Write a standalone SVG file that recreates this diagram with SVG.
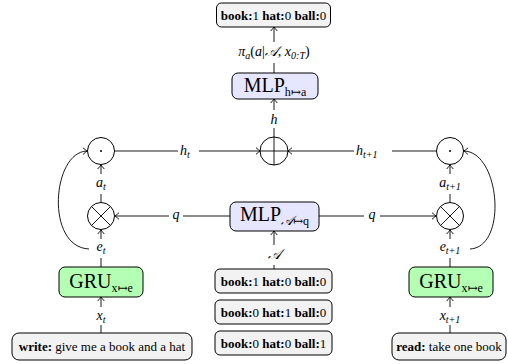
<svg xmlns="http://www.w3.org/2000/svg" width="508" height="364" viewBox="0 0 508 364">
<defs>
<marker id="ar" viewBox="-6 -5 7 10" refX="0" refY="0" markerWidth="7" markerHeight="10" markerUnits="userSpaceOnUse" orient="auto">
<path d="M-4,-3.3 Q-1.2,-0.9 0,0 Q-1.2,0.9 -4,3.3" fill="none" stroke="#000" stroke-width="0.9"/>
</marker>
<style>
.box{stroke:#000;stroke-width:1}
.gray{fill:#f2f2f2}
.blue{fill:#e6e6ff}
.green{fill:#b3ffb3}
.t{font-family:"Liberation Serif","DejaVu Serif",serif;font-size:13px;fill:#000}
.b{font-weight:bold}
.m{font-family:"Liberation Serif","DejaVu Serif",serif;font-style:italic;font-size:14px;fill:#000}
.s{font-size:10px}
.big{font-family:"Liberation Serif","DejaVu Serif",serif;font-size:20px;fill:#000}
.bs{font-size:12px}
.c{stroke:#000;stroke-width:0.9;fill:none}
.op{stroke:#000;stroke-width:1;fill:#fff}
</style>
</defs>
<g id="connectors" class="c">
<path d="M274 73 V63 M274 42 V27" marker-end="url(#ar)"/>
<path d="M274 137 V128 M274 110 V99" marker-end="url(#ar)"/>
<path d="M114.5 151 H178 M199 151 H260" marker-end="url(#ar)"/>
<path d="M436.5 151 H392 M354 151 H288" marker-end="url(#ar)"/>
<path d="M101 202.5 V194 M101 174 V165" marker-end="url(#ar)"/>
<path d="M450 202.5 V194 M450 174 V165" marker-end="url(#ar)"/>
<path d="M230 216 H183 M169 216 H115" marker-end="url(#ar)"/>
<path d="M319 216 H364 M380 216 H436" marker-end="url(#ar)"/>
<path d="M274 269 V265 M274 245 V231" marker-end="url(#ar)"/>
<path d="M101 267 V258 M101 239 V230" marker-end="url(#ar)"/>
<path d="M450 267 V258 M450 239 V230" marker-end="url(#ar)"/>
<path d="M101 333 V325 M101 307 V297" marker-end="url(#ar)"/>
<path d="M450 333 V325 M450 307 V297" marker-end="url(#ar)"/>
<path d="M89 249 C 45 247, 52 152, 87 151" marker-end="url(#ar)"/>
<path d="M470 249 C 508 247, 500 152, 464 151" marker-end="url(#ar)"/>
</g>
<g id="out">
<rect class="box gray" x="216.5" y="3" width="114" height="24" rx="5"/>
<text class="t" x="273.5" y="19.5" text-anchor="middle"><tspan class="b">book:</tspan>1 <tspan class="b">hat:</tspan>0 <tspan class="b">ball:</tspan>0</text>
</g>
<text class="m" x="274" y="56" text-anchor="middle">π<tspan class="s" dy="3">a</tspan><tspan dy="-3" font-style="normal">(</tspan>a<tspan font-style="normal">|</tspan>𝒜<tspan font-style="normal">, </tspan>x<tspan class="s" dy="3">0:T</tspan><tspan dy="-3" font-style="normal">)</tspan></text>
<g id="mlp_h">
<rect class="box blue" x="232" y="73" width="86" height="26" rx="6"/>
<text class="big" x="275" y="92" text-anchor="middle">MLP<tspan class="bs" dy="4">h↦a</tspan></text>
</g>
<text class="m" x="274" y="124" text-anchor="middle">h</text>
<g id="oplus">
<circle class="op" cx="274" cy="151" r="14"/>
<path class="c" d="M260 151 H288 M274 137 V165"/>
</g>
<text class="m" x="180" y="155">h<tspan class="s" dy="3">t</tspan></text>
<text class="m" x="356" y="155">h<tspan class="s" dy="3">t+1</tspan></text>
<g id="dot_l">
<circle class="op" cx="101" cy="151" r="13.5"/>
<circle cx="101" cy="151" r="1" fill="#000"/>
</g>
<g id="dot_r">
<circle class="op" cx="450" cy="151" r="13.5"/>
<circle cx="450" cy="151" r="1" fill="#000"/>
</g>
<text class="m" x="101" y="187" text-anchor="middle">a<tspan class="s" dy="3">t</tspan></text>
<text class="m" x="450" y="187" text-anchor="middle">a<tspan class="s" dy="3">t+1</tspan></text>
<g id="otimes_l">
<circle class="op" cx="101" cy="216" r="13.5"/>
<path class="c" d="M91.5 206.5 L110.5 225.5 M110.5 206.5 L91.5 225.5"/>
</g>
<g id="otimes_r">
<circle class="op" cx="450" cy="216" r="13.5"/>
<path class="c" d="M440.5 206.5 L459.5 225.5 M459.5 206.5 L440.5 225.5"/>
</g>
<text class="m" x="176" y="219" text-anchor="middle">q</text>
<text class="m" x="372" y="219" text-anchor="middle">q</text>
<g id="mlp_a">
<rect class="box blue" x="230" y="202" width="89" height="29" rx="6"/>
<text class="big" x="274.5" y="221" text-anchor="middle">MLP<tspan font-size="13" dy="4" font-style="italic">𝒜</tspan><tspan class="bs">↦q</tspan></text>
</g>
<text class="m" x="274" y="259" text-anchor="middle">𝒜</text>
<text class="m" x="101" y="251" text-anchor="middle">e<tspan class="s" dy="3">t</tspan></text>
<text class="m" x="450" y="251" text-anchor="middle">e<tspan class="s" dy="3">t+1</tspan></text>
<g id="gru_l">
<rect class="box green" x="59" y="267" width="84" height="30" rx="6"/>
<text class="big" x="101" y="288" text-anchor="middle">GRU<tspan class="bs" dy="4">x↦e</tspan></text>
</g>
<g id="gru_r">
<rect class="box green" x="409" y="267" width="84" height="30" rx="6"/>
<text class="big" x="451" y="288" text-anchor="middle">GRU<tspan class="bs" dy="4">x↦e</tspan></text>
</g>
<text class="m" x="101" y="320" text-anchor="middle">x<tspan class="s" dy="3">t</tspan></text>
<text class="m" x="450" y="320" text-anchor="middle">x<tspan class="s" dy="3">t+1</tspan></text>
<g id="opt1">
<rect class="box gray" x="215" y="269" width="117" height="24" rx="5"/>
<text class="t" x="273.5" y="285.5" text-anchor="middle"><tspan class="b">book:</tspan>1 <tspan class="b">hat:</tspan>0 <tspan class="b">ball:</tspan>0</text>
</g>
<g id="opt2">
<rect class="box gray" x="215" y="300" width="117" height="24" rx="5"/>
<text class="t" x="273.5" y="316.5" text-anchor="middle"><tspan class="b">book:</tspan>0 <tspan class="b">hat:</tspan>1 <tspan class="b">ball:</tspan>0</text>
</g>
<g id="opt3">
<rect class="box gray" x="215" y="331" width="117" height="24" rx="5"/>
<text class="t" x="273.5" y="347.5" text-anchor="middle"><tspan class="b">book:</tspan>0 <tspan class="b">hat:</tspan>0 <tspan class="b">ball:</tspan>1</text>
</g>
<g id="write">
<rect class="box gray" x="12" y="333" width="180" height="27" rx="7"/>
<text class="t" x="102" y="351" text-anchor="middle"><tspan class="b">write:</tspan> give me a book and a hat</text>
</g>
<g id="read">
<rect class="box gray" x="392" y="333" width="114" height="27" rx="7"/>
<text class="t" x="449" y="351" text-anchor="middle"><tspan class="b">read:</tspan> take one book</text>
</g>
</svg>
